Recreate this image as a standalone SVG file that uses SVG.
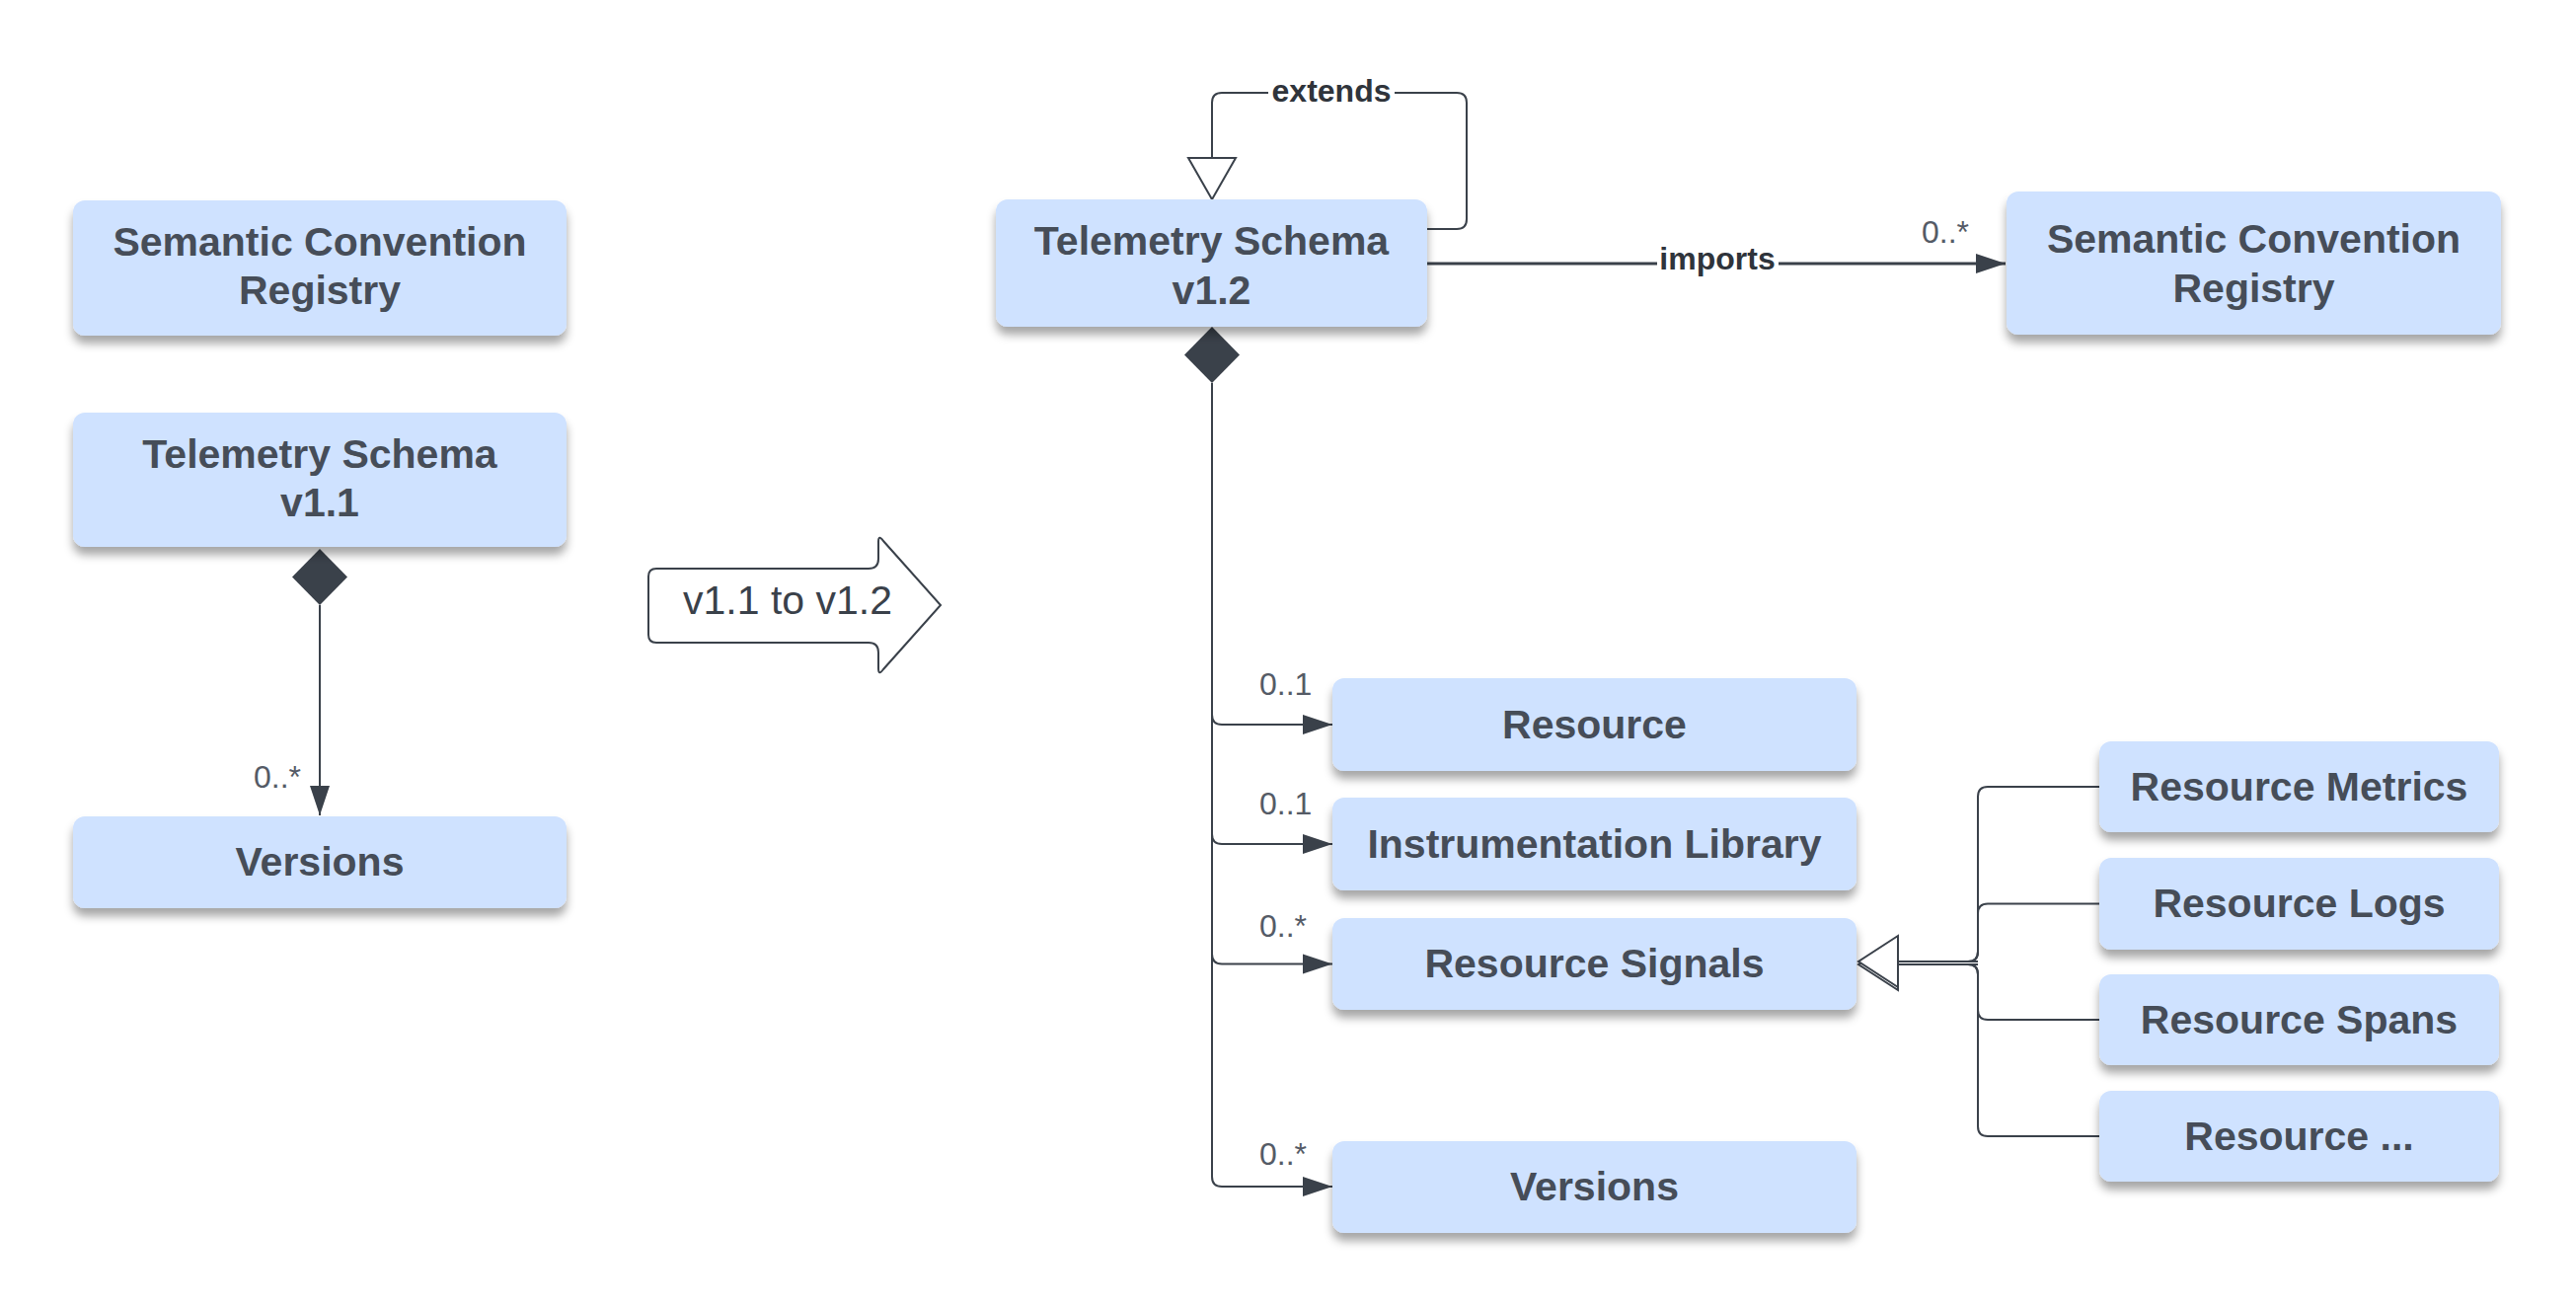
<svg xmlns="http://www.w3.org/2000/svg" width="2610" height="1324" viewBox="0 0 2610 1324">
<defs>
<filter id="sh" x="-10%" y="-20%" width="120%" height="160%">
<feDropShadow dx="0" dy="8" stdDeviation="5" flood-color="#000" flood-opacity="0.35"/>
</filter>
<marker id="arr" markerWidth="30" markerHeight="20" refX="30" refY="10" orient="auto" markerUnits="userSpaceOnUse" overflow="visible">
<path d="M0,0 L30,10 L0,20 Z" fill="#3a414a"/>
</marker>
<marker id="hollow" markerWidth="42" markerHeight="48" refX="42" refY="24" orient="auto" markerUnits="userSpaceOnUse" overflow="visible">
<path d="M0,0 L42,24 L0,48 Z" fill="#fff" stroke="#3a414a" stroke-width="2" stroke-linejoin="miter"/>
</marker>
</defs>
<style>
.box{fill:#cfe2ff;filter:url(#sh)}
.t{font-family:"Liberation Sans",Arial,sans-serif;font-weight:bold;font-size:41px;fill:#464d58;text-anchor:middle}
.lbl{font-family:"Liberation Sans",Arial,sans-serif;font-size:32px;fill:#555b66}
.elbl{font-family:"Liberation Sans",Arial,sans-serif;font-size:32px;font-weight:bold;fill:#2f343b;text-anchor:middle}
.ln{fill:none;stroke:#3a414a;stroke-width:2}
.dia{fill:#3a414a}
</style>
<rect width="2610" height="1324" fill="#fff"/>

<g id="connectors">
<polygon class="dia" points="324,556 352,584.5 324,613 296,584.5"/>
<path class="ln" d="M324,613 V826" marker-end="url(#arr)"/>

<path class="ln" d="M1446,232 H1476 Q1486,232 1486,222 V104 Q1486,94 1476,94 H1238 Q1228,94 1228,104 V202" marker-end="url(#hollow)"/>
<rect x="1285" y="74" width="128" height="40" fill="#fff"/>
<text class="elbl" x="1349" y="103">extends</text>

<path class="ln" style="stroke-width:3" d="M1446,267 H2032" marker-end="url(#arr)"/>
<rect x="1679" y="248" width="123" height="38" fill="#fff"/>
<text class="elbl" x="1740" y="273">imports</text>
<text class="lbl" x="1947" y="246">0..*</text>

<polygon class="dia" points="1228,331 1256,359.5 1228,388 1200,359.5"/>
<path class="ln" d="M1228,388 V724 Q1228,734 1238,734 H1350" marker-end="url(#arr)"/>
<path class="ln" d="M1228,388 V845 Q1228,855 1238,855 H1350" marker-end="url(#arr)"/>
<path class="ln" d="M1228,388 V966.5 Q1228,976.5 1238,976.5 H1350" marker-end="url(#arr)"/>
<path class="ln" d="M1228,388 V1192 Q1228,1202 1238,1202 H1350" marker-end="url(#arr)"/>
<text class="lbl" x="1276" y="704">0..1</text>
<text class="lbl" x="1276" y="825">0..1</text>
<text class="lbl" x="1276" y="949">0..*</text>
<text class="lbl" x="1276" y="1180">0..*</text>
<text class="lbl" x="305" y="798" text-anchor="end">0..*</text>

<path class="ln" d="M2127,797 H2014 Q2004,797 2004,807 V964 Q2004,974 1994,974 H1883" marker-end="url(#hollow)" style="marker-end:none"/>
<path class="ln" d="M2127,915.5 H2014 Q2004,915.5 2004,925.5 V964 Q2004,974 1994,974 H1923"/>
<path class="ln" d="M2127,1033 H2014 Q2004,1033 2004,1023 V987 Q2004,977 1994,977 H1923"/>
<path class="ln" d="M2127,1151 H2014 Q2004,1151 2004,1141 V987 Q2004,977 1994,977 H1923"/>
<path d="M1923,951 L1883,977 L1923,1003 Z" fill="#fff" stroke="#3a414a" stroke-width="2"/>
<path d="M1923,948 L1883,974 L1923,1000 Z" fill="#fff" stroke="#3a414a" stroke-width="2"/>
<path class="ln" d="M1923,974 H2004 M1923,977 H2004"/>
</g>

<g id="sc-left"><rect class="box" x="74" y="203" width="500" height="137" rx="12"/>
<text class="t" x="324" y="259">Semantic Convention</text><text class="t" x="324" y="308">Registry</text></g>
<g id="ts-left"><rect class="box" x="74" y="418" width="500" height="136" rx="12"/>
<text class="t" x="324" y="474">Telemetry Schema</text><text class="t" x="324" y="523">v1.1</text></g>
<g id="ver-left"><rect class="box" x="74" y="827" width="500" height="93" rx="12"/>
<text class="t" x="324" y="887">Versions</text></g>

<g id="transition">
<path d="M665,576 H880 Q890,576 890,566 V549 Q890,541 895,548 L953,613 L895,678 Q890,685 890,677 V661 Q890,651 880,651 H665 Q657,651 657,643 V584 Q657,576 665,576 Z" fill="#fff" stroke="#3a414a" stroke-width="2"/>
<text x="798" y="622" font-family="Liberation Sans, Arial, sans-serif" font-size="41" fill="#3a414a" text-anchor="middle">v1.1 to v1.2</text>
</g>

<g id="ts-right"><rect class="box" x="1009" y="202" width="437" height="129" rx="12"/>
<text class="t" x="1227.5" y="258">Telemetry Schema</text><text class="t" x="1227.5" y="308">v1.2</text></g>
<g id="sc-right"><rect class="box" x="2033" y="194" width="501" height="145" rx="12"/>
<text class="t" x="2283.5" y="256">Semantic Convention</text><text class="t" x="2283.5" y="306">Registry</text></g>

<g id="resource"><rect class="box" x="1350" y="687" width="531" height="94" rx="12"/>
<text class="t" x="1615.5" y="748">Resource</text></g>
<g id="instr-lib"><rect class="box" x="1350" y="808" width="531" height="94" rx="12"/>
<text class="t" x="1615.5" y="869">Instrumentation Library</text></g>
<g id="res-signals"><rect class="box" x="1350" y="930" width="531" height="93" rx="12"/>
<text class="t" x="1615.5" y="990">Resource Signals</text></g>
<g id="ver-right"><rect class="box" x="1350" y="1156" width="531" height="93" rx="12"/>
<text class="t" x="1615.5" y="1216">Versions</text></g>

<g id="res-metrics"><rect class="box" x="2127" y="751" width="405" height="92" rx="12"/>
<text class="t" x="2329.5" y="811">Resource Metrics</text></g>
<g id="res-logs"><rect class="box" x="2127" y="869" width="405" height="93" rx="12"/>
<text class="t" x="2329.5" y="929">Resource Logs</text></g>
<g id="res-spans"><rect class="box" x="2127" y="987" width="405" height="92" rx="12"/>
<text class="t" x="2329.5" y="1047">Resource Spans</text></g>
<g id="res-etc"><rect class="box" x="2127" y="1105" width="405" height="92" rx="12"/>
<text class="t" x="2329.5" y="1165">Resource ...</text></g>
</svg>
